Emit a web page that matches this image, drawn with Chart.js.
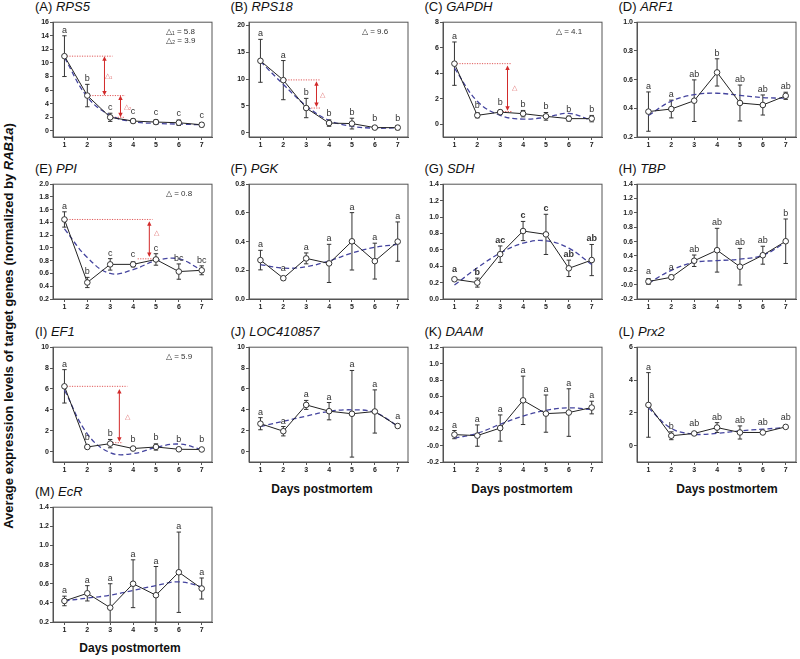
<!DOCTYPE html>
<html>
<head>
<meta charset="utf-8">
<script src="https://cdn.jsdelivr.net/npm/chart.js@4.4.1/dist/chart.umd.min.js"></script>
<style>
  body { margin: 0; background: #fff; width: 800px; height: 659px; position: relative; overflow: hidden; font-family: Arial, "Liberation Sans", sans-serif; }
  .title { position: absolute; font-size: 13px; line-height: 14px; color: #111; white-space: nowrap; }
  .xlab { position: absolute; font-size: 12px; font-weight: bold; color: #111; white-space: nowrap; transform: translate(-50%, -50%); }
  #ylab { position: absolute; left: 8px; top: 326px; width: 0; height: 0; }
  #ylab span { position: absolute; font-size: 13px; font-weight: bold; color: #111; white-space: nowrap; transform: translate(-50%, -50%) rotate(-90deg); }
</style>
</head>
<body>
<div id="ylab"><span>Average expression levels of target genes (normalized by <i>RAB1a</i>)</span></div>
<script>
const days = [1, 2, 3, 4, 5, 6, 7]

const rps5Mean = [11.0, 5.2, 2.0, 1.45, 1.3, 1.2, 0.9]
const rps5Err = [3.0, 1.65, 0.6, 0.3, 0.35, 0.4, 0.3]
const rps5Fit = [10.8, 5.0, 2.3, 1.35, 1.1, 1.0, 0.9]
const rps5Sig = ['a', 'b', 'c', 'c', 'c', 'c', 'c']

const rps18Mean = [13.4, 9.8, 4.6, 1.8, 1.7, 0.95, 0.95]
const rps18Err = [4.0, 3.65, 1.8, 0.6, 1.0, 0.3, 0.4]
const rps18Fit = [13.3, 9.0, 5.0, 2.3, 1.2, 0.85, 0.9]
const rps18Sig = ['a', 'a', 'b', 'b', 'b', 'b', 'b']

const gapdhMean = [4.75, 0.7, 0.95, 0.83, 0.62, 0.44, 0.44]
const gapdhErr = [1.7, 0.2, 0.15, 0.25, 0.3, 0.2, 0.25]
const gapdhFit = [4.4, 1.8, 0.7, 0.4, 0.55, 0.85, 0.3]
const gapdhSig = ['a', 'b', 'b', 'b', 'b', 'b', 'b']

const arf1Mean = [0.377, 0.395, 0.453, 0.65, 0.437, 0.423, 0.487]
const arf1Err = [0.137, 0.062, 0.145, 0.095, 0.125, 0.07, 0.025]
const arf1Fit = [0.35, 0.45, 0.495, 0.505, 0.49, 0.475, 0.47]
const arf1Sig = ['a', 'a', 'ab', 'b', 'ab', 'ab', 'ab']

const ppiMean = [1.447, 0.459, 0.743, 0.743, 0.82, 0.63, 0.65]
const ppiErr = [0.12, 0.08, 0.09, 0.04, 0.09, 0.12, 0.07]
const ppiFit = [1.3, 0.85, 0.6, 0.66, 0.8, 0.83, 0.65]
const ppiSig = ['a', 'b', 'c', 'c', 'c', 'bc', 'bc']

const pgkMean = [0.271, 0.145, 0.283, 0.248, 0.402, 0.264, 0.4]
const pgkErr = [0.068, 0.012, 0.038, 0.133, 0.2, 0.125, 0.137]
const pgkFit = [0.24, 0.215, 0.225, 0.265, 0.32, 0.36, 0.38]
const pgkSig = ['a', 'a', 'a', 'a', 'a', 'a', 'a']

const sdhMean = [0.241, 0.2, 0.547, 0.829, 0.788, 0.374, 0.475]
const sdhErr = [0.01, 0.055, 0.1, 0.117, 0.245, 0.1, 0.19]
const sdhFit = [0.17, 0.38, 0.56, 0.68, 0.71, 0.62, 0.42]
const sdhSig = ['a', 'b', 'ac', 'c', 'c', 'ab', 'ab']

const tbpMean = [0.044, 0.103, 0.333, 0.48, 0.25, 0.41, 0.605]
const tbpErr = [0.04, 0.03, 0.08, 0.305, 0.255, 0.125, 0.31]
const tbpFit = [0.02, 0.2, 0.31, 0.335, 0.355, 0.41, 0.59]
const tbpSig = ['a', 'a', 'ab', 'ab', 'ab', 'ab', 'b']

const ef1Mean = [6.25, 0.44, 0.76, 0.29, 0.44, 0.22, 0.2]
const ef1Err = [1.6, 0.15, 0.4, 0.05, 0.3, 0.05, 0.05]
const ef1Fit = [5.9, 1.7, -0.1, -0.2, 0.4, 0.72, 0.2]
const ef1Sig = ['a', 'b', 'b', 'b', 'b', 'b', 'b']

const locMean = [2.67, 1.95, 4.47, 3.87, 3.62, 3.84, 2.45]
const locErr = [0.58, 0.45, 0.43, 0.83, 4.15, 2.07, 0.05]
const locFit = [2.4, 2.9, 3.4, 3.85, 4.0, 3.75, 2.45]
const locSig = ['a', 'a', 'a', 'a', 'a', 'a', 'a']

const daamMean = [0.134, 0.122, 0.214, 0.552, 0.39, 0.403, 0.464]
const daamErr = [0.05, 0.13, 0.16, 0.295, 0.227, 0.29, 0.077]
const daamFit = [0.09, 0.15, 0.26, 0.36, 0.43, 0.46, 0.44]
const daamSig = ['a', 'a', 'a', 'a', 'a', 'a', 'a']

const prx2Mean = [2.48, 0.6, 0.74, 1.1, 0.8, 0.8, 1.14]
const prx2Err = [1.97, 0.24, 0.05, 0.3, 0.4, 0.05, 0.05]
const prx2Fit = [2.3, 1.05, 0.7, 0.75, 0.9, 1.0, 1.1]
const prx2Sig = ['a', 'b', 'ab', 'ab', 'ab', 'ab', 'ab']

const ecrMean = [0.42, 0.5, 0.35, 0.6, 0.48, 0.72, 0.55]
const ecrErr = [0.05, 0.08, 0.25, 0.25, 0.3, 0.42, 0.11]
const ecrFit = [0.42, 0.45, 0.48, 0.53, 0.58, 0.62, 0.57]
const ecrSig = ['a', 'a', 'a', 'a', 'a', 'a', 'a']

// layout of the plot boxes
const W = 160
const H = 116
const YW = 26
const XH = 16
const PT = 4
const PR = 4
const colLeft = [53, 248.5, 442.5, 636.5]
const rowTop = [20.7, 183.3, 345.7, 506]

// y: [min, max, step, decimals]
const panels = [
  { tag: 'A', gene: 'RPS5', c: 0, r: 0, mean: rps5Mean, err: rps5Err, fit: rps5Fit, sig: rps5Sig, y: [-0.9, 16, 2, 0],
    corner: ['△₁ = 5.8', '△₂ = 3.9'],
    hl: [[11.0, 1, 3.1], [5.2, 2, 3.65], [2.0, 3, 3.65]],
    ar: [[2.75, 11.0, 5.2], [3.45, 5.2, 2.0]],
    dl: [[2.93, 8.1, '△₁'], [3.76, 3.5, '△₂']] },
  { tag: 'B', gene: 'RPS18', c: 1, r: 0, mean: rps18Mean, err: rps18Err, fit: rps18Fit, sig: rps18Sig, y: [-0.8, 20.6, 5, 0],
    corner: ['△ = 9.6'],
    hl: [[9.84, 2, 3.6], [4.6, 3, 3.6]],
    ar: [[3.45, 9.6, 4.8]],
    dl: [[3.72, 7.0, '△']] },
  { tag: 'C', gene: 'GAPDH', c: 2, r: 0, mean: gapdhMean, err: gapdhErr, fit: gapdhFit, sig: gapdhSig, y: [-1, 8, 2, 0],
    corner: ['△ = 4.1'],
    hl: [[4.75, 1, 3.5], [1.0, 3, 3.5]],
    ar: [[3.32, 4.6, 1.05]],
    dl: [[3.62, 2.8, '△']] },
  { tag: 'D', gene: 'ARF1', c: 3, r: 0, mean: arf1Mean, err: arf1Err, fit: arf1Fit, sig: arf1Sig, y: [0.2, 1.0, 0.2, 1] },
  { tag: 'E', gene: 'PPI', c: 0, r: 1, mean: ppiMean, err: ppiErr, fit: ppiFit, sig: ppiSig, y: [0.2, 2.0, 0.2, 1],
    corner: ['△ = 0.8'],
    hl: [[1.447, 1, 4.85], [0.83, 4.2, 5]],
    ar: [[4.71, 1.42, 0.86]],
    dl: [[5.04, 1.23, '△']] },
  { tag: 'F', gene: 'PGK', c: 1, r: 1, mean: pgkMean, err: pgkErr, fit: pgkFit, sig: pgkSig, y: [0, 0.8, 0.2, 1] },
  { tag: 'G', gene: 'SDH', c: 2, r: 1, mean: sdhMean, err: sdhErr, fit: sdhFit, sig: sdhSig, y: [0, 1.4, 0.2, 1], bold: true },
  { tag: 'H', gene: 'TBP', c: 3, r: 1, mean: tbpMean, err: tbpErr, fit: tbpFit, sig: tbpSig, y: [-0.2, 1.4, 0.2, 1] },
  { tag: 'I', gene: 'EF1', c: 0, r: 2, mean: ef1Mean, err: ef1Err, fit: ef1Fit, sig: ef1Sig, y: [-1, 10, 2, 0],
    corner: ['△ = 5.9'],
    hl: [[6.25, 1, 3.75], [0.85, 3, 3.55]],
    ar: [[3.4, 6.0, 0.95]],
    dl: [[3.75, 3.3, '△']] },
  { tag: 'J', gene: 'LOC410857', c: 1, r: 2, mean: locMean, err: locErr, fit: locFit, sig: locSig, y: [-1, 10, 2, 0] },
  { tag: 'K', gene: 'DAAM', c: 2, r: 2, mean: daamMean, err: daamErr, fit: daamFit, sig: daamSig, y: [-0.2, 1.2, 0.2, 1] },
  { tag: 'L', gene: 'Prx2', c: 3, r: 2, mean: prx2Mean, err: prx2Err, fit: prx2Fit, sig: prx2Sig, y: [-1, 6, 2, 0] },
  { tag: 'M', gene: 'EcR', c: 0, r: 3, mean: ecrMean, err: ecrErr, fit: ecrFit, sig: ecrSig, y: [0.2, 1.4, 0.2, 1] }
]

const xLabels = [[322, 489], [522, 489], [727, 489], [130, 648]]

const tickFont = { family: 'Arial', size: 7, weight: 'bold' }

function tri (ctx, x, y, dir) {
  // dir -1: pointing up, 1: pointing down
  ctx.beginPath()
  ctx.moveTo(x, y)
  ctx.lineTo(x - 2.2, y - dir * 4.5)
  ctx.lineTo(x + 2.2, y - dir * 4.5)
  ctx.closePath()
  ctx.fill()
}

function extras (p) {
  return {
    id: 'extras',
    beforeDatasetsDraw (chart) {
      const { ctx, chartArea: a, scales: { x, y } } = chart
      ctx.save()
      ctx.beginPath()
      ctx.rect(a.left, a.top, a.width, a.height)
      ctx.clip()
      ctx.strokeStyle = '#333'
      ctx.lineWidth = 1
      days.forEach((d, i) => {
        const px = x.getPixelForValue(d)
        const t = y.getPixelForValue(p.mean[i] + p.err[i])
        const b = y.getPixelForValue(p.mean[i] - p.err[i])
        ctx.beginPath()
        ctx.moveTo(px, t); ctx.lineTo(px, b)
        ctx.moveTo(px - 2.2, t); ctx.lineTo(px + 2.2, t)
        ctx.moveTo(px - 2.2, b); ctx.lineTo(px + 2.2, b)
        ctx.stroke()
      })
      ctx.strokeStyle = '#e05a5a'
      ctx.setLineDash([1.2, 1.3])
      ;(p.hl || []).forEach(([v, x0, x1]) => {
        const py = y.getPixelForValue(v)
        ctx.beginPath()
        ctx.moveTo(x.getPixelForValue(x0), py)
        ctx.lineTo(x.getPixelForValue(x1), py)
        ctx.stroke()
      })
      ctx.setLineDash([])
      ctx.strokeStyle = ctx.fillStyle = '#d22a2a'
      ;(p.ar || []).forEach(([xv, y0, y1]) => {
        const px = x.getPixelForValue(xv)
        const t = y.getPixelForValue(Math.max(y0, y1))
        const b = y.getPixelForValue(Math.min(y0, y1))
        ctx.beginPath()
        ctx.moveTo(px, t + 3); ctx.lineTo(px, b - 3)
        ctx.stroke()
        tri(ctx, px, t, -1)
        tri(ctx, px, b, 1)
      })
      ctx.restore()
    },
    afterDatasetsDraw (chart) {
      const { ctx, chartArea: a, scales: { x, y } } = chart
      ctx.save()
      ctx.fillStyle = '#333'
      ctx.font = (p.bold ? 'bold ' : '') + '9px Arial'
      ctx.textAlign = 'center'
      ctx.textBaseline = 'alphabetic'
      days.forEach((d, i) => {
        const px = x.getPixelForValue(d)
        const top = Math.min(y.getPixelForValue(p.mean[i] + p.err[i]), y.getPixelForValue(p.mean[i]) - 4)
        ctx.fillText(p.sig[i], px, top - 3)
      })
      ctx.fillStyle = '#e07070'
      ctx.font = '7px Arial'
      ctx.textBaseline = 'middle'
      ;(p.dl || []).forEach(([xv, yv, t]) => {
        ctx.fillText(t, x.getPixelForValue(xv), y.getPixelForValue(yv))
      })
      ctx.fillStyle = '#333'
      ctx.font = '8px Arial'
      ctx.textAlign = 'left'
      ;(p.corner || []).forEach((t, k) => {
        ctx.fillText(t, a.left + 113, a.top + 10 + k * 8.5)
      })
      ctx.strokeStyle = '#555'
      ctx.lineWidth = 1
      ctx.strokeRect(a.left, a.top, a.width, a.height)
      ctx.restore()
    }
  }
}

panels.forEach((p) => {
  const boxLeft = colLeft[p.c]
  const boxTop = rowTop[p.r]

  const title = document.createElement('div')
  title.className = 'title'
  title.style.left = (boxLeft - 18) + 'px'
  title.style.top = (boxTop - 21) + 'px'
  title.innerHTML = '(' + p.tag + ') <i>' + p.gene + '</i>'
  document.body.appendChild(title)

  const cw = YW + W + PR
  const ch = PT + H + XH
  const cv = document.createElement('canvas')
  cv.width = cw
  cv.height = ch
  cv.style.cssText = `position:absolute;left:${boxLeft - YW}px;top:${boxTop - PT}px;width:${cw}px;height:${ch}px`
  document.body.appendChild(cv)

  const [ymin, ymax, ystep, dec] = p.y
  new Chart(cv, {
    type: 'line',
    data: {
      datasets: [
        {
          data: days.map((d, i) => ({ x: d, y: p.mean[i] })),
          borderColor: '#222',
          borderWidth: 1,
          pointRadius: 2.8,
          pointBackgroundColor: '#fff',
          pointBorderColor: '#333',
          pointBorderWidth: 1,
          tension: 0,
          order: 0
        },
        {
          data: days.map((d, i) => ({ x: d, y: p.fit[i] })),
          borderColor: '#44449e',
          borderWidth: 1.3,
          borderDash: [5, 3],
          pointRadius: 0,
          tension: 0.4,
          order: 1
        }
      ]
    },
    options: {
      responsive: false,
      animation: false,
      events: [],
      layout: { padding: { top: PT, right: PR, left: 0, bottom: 0 } },
      plugins: { legend: { display: false }, tooltip: { enabled: false } },
      scales: {
        x: {
          type: 'linear',
          min: 0.5,
          max: 7.45,
          afterFit: (s) => { s.height = XH },
          ticks: { stepSize: 1, includeBounds: false, font: tickFont, color: '#222', padding: 1, maxRotation: 0 },
          grid: { drawOnChartArea: false, tickLength: 3, color: '#555' },
          border: { color: '#555' }
        },
        y: {
          min: ymin,
          max: ymax,
          afterFit: (s) => { s.width = YW },
          ticks: { stepSize: ystep, includeBounds: false, font: tickFont, color: '#222', padding: 1, callback: (v) => v.toFixed(dec) },
          grid: { drawOnChartArea: false, tickLength: 3, color: '#555' },
          border: { color: '#555' }
        }
      }
    },
    plugins: [extras(p)]
  })
})

xLabels.forEach(([cx, cy]) => {
  const d = document.createElement('div')
  d.className = 'xlab'
  d.style.left = cx + 'px'
  d.style.top = cy + 'px'
  d.textContent = 'Days postmortem'
  document.body.appendChild(d)
})
</script>
</body>
</html>
